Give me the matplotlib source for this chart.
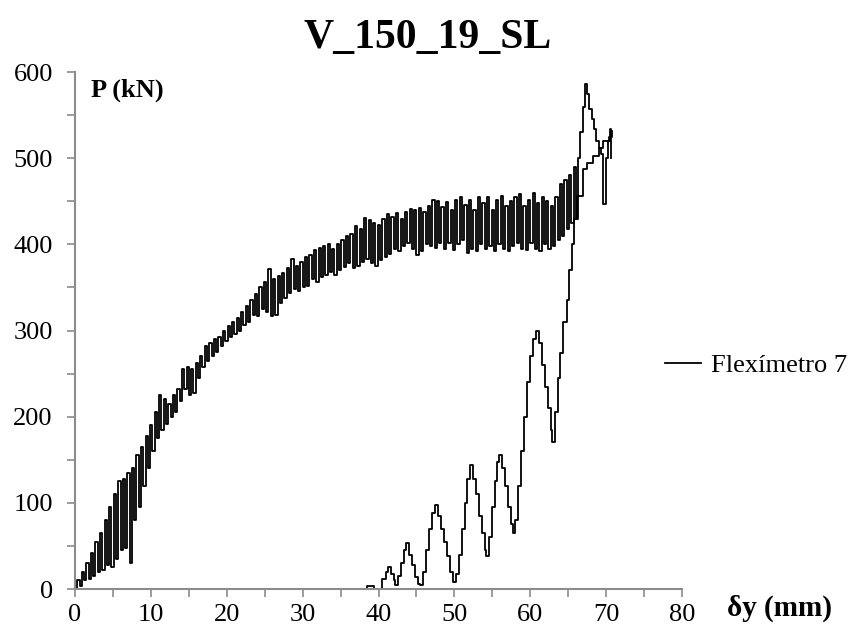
import numpy as np
import matplotlib
matplotlib.use('Agg')
import matplotlib.pyplot as plt
from matplotlib.ticker import MultipleLocator

plt.rcParams['font.family'] = ['Liberation Serif', 'DejaVu Serif']

# ramo superior (ciclos de carga), pares vale/pico
x_sup = [0.0, 0.3, 0.6, 0.9, 1.2, 1.5, 1.8, 2.1, 2.4, 2.7, 3.0, 3.3, 3.6, 3.9, 4.2, 4.5,
         4.8, 5.1, 5.4, 5.7, 6.0, 6.3, 6.6, 6.9, 7.2, 7.5, 7.8, 8.1, 8.4, 8.7, 9.0, 9.3,
         9.6, 9.9, 10.2, 10.5, 10.8, 11.1, 11.4, 11.7, 12.0, 12.3, 12.6, 12.9, 13.2, 13.5,
         13.8, 14.1, 14.4, 14.7, 15.0, 15.3, 15.6, 15.9, 16.2, 16.5, 16.8, 17.1, 17.4, 17.7,
         18.0, 18.3, 18.6, 18.9, 19.2, 19.5, 19.8, 20.1, 20.4, 20.7, 21.0, 21.3, 21.6, 21.9,
         22.2, 22.5, 22.8, 23.1, 23.4, 23.7, 24.0, 24.3, 24.6, 24.9, 25.2, 25.5, 25.8, 26.1,
         26.4, 26.7, 27.0, 27.3, 27.6, 27.9, 28.2, 28.5, 28.8, 29.1, 29.4, 29.7, 30.0, 30.3,
         30.6, 30.9, 31.2, 31.5, 31.8, 32.1, 32.4, 32.7, 33.0, 33.3, 33.6, 33.9, 34.2, 34.5,
         34.8, 35.1, 35.4, 35.7, 36.0, 36.3, 36.6, 36.9, 37.2, 37.5, 37.8, 38.1, 38.4, 38.7,
         39.0, 39.3, 39.6, 39.9, 40.2, 40.5, 40.8, 41.1, 41.4, 41.7, 42.0, 42.3, 42.6, 42.9,
         43.2, 43.5, 43.8, 44.1, 44.4, 44.7, 45.0, 45.3, 45.6, 45.9, 46.2, 46.5, 46.8, 47.1,
         47.4, 47.7, 48.0, 48.3, 48.6, 48.9, 49.2, 49.5, 49.8, 50.1, 50.4, 50.7, 51.0, 51.3,
         51.6, 51.9, 52.2, 52.5, 52.8, 53.1, 53.4, 53.7, 54.0, 54.3, 54.6, 54.9, 55.2, 55.5,
         55.8, 56.1, 56.4, 56.7, 57.0, 57.3, 57.6, 57.9, 58.2, 58.5, 58.8, 59.1, 59.4, 59.7,
         60.0, 60.3, 60.6, 60.9, 61.2, 61.5, 61.8, 62.1, 62.4, 62.7, 63.0, 63.3, 63.6, 63.9,
         64.2, 64.5, 64.8, 65.1, 65.4, 65.7, 66.0, 66.3, 66.6, 66.9, 67.2, 67.5, 67.8, 68.1,
         68.4, 68.7, 69.0, 69.3, 69.6, 70.0, 70.3, 70.5, 70.6]
p_sup = [0, 10, 4, 20, 10, 30, 12, 42, 15, 55, 20, 65, 22, 80, 28, 95,
         26, 110, 35, 125, 45, 128, 48, 135, 30, 140, 80, 155, 95, 165, 120, 178,
         140, 190, 160, 205, 175, 225, 185, 220, 192, 215, 200, 225, 205, 232,
         218, 255, 232, 258, 225, 255, 228, 262, 245, 270, 258, 282, 265, 285,
         270, 290, 275, 292, 282, 300, 288, 305, 292, 310, 296, 315, 300, 322,
         306, 328, 310, 335, 318, 342, 317, 350, 325, 356, 322, 371, 317, 360,
         318, 363, 332, 367, 338, 372, 344, 383, 348, 375, 346, 379, 350, 385,
         352, 388, 360, 393, 356, 396, 362, 398, 364, 400, 368, 395, 365, 400,
         370, 405, 374, 410, 378, 412, 372, 421, 375, 418, 380, 431, 383, 428,
         378, 425, 375, 423, 382, 430, 385, 435, 389, 432, 395, 436, 392, 430,
         398, 438, 402, 441, 395, 440, 388, 442, 392, 437, 400, 445, 398, 452,
         396, 450, 402, 443, 395, 449, 402, 440, 394, 452, 400, 455, 405, 446,
         390, 452, 395, 440, 392, 455, 400, 448, 395, 455, 398, 440, 392, 452,
         400, 456, 395, 445, 392, 450, 398, 455, 402, 458, 395, 445, 393, 452,
         402, 460, 395, 448, 392, 455, 400, 450, 395, 445, 398, 455, 405, 470,
         410, 475, 418, 480, 425, 490, 430, 500, 530, 560, 586, 575, 557, 545,
         534, 520, 512, 505, 447, 500, 520, 534, 500]

# ramo inferior
x_inf = [38.0, 38.5, 39.0, 39.4, 40.0, 40.5, 41.0, 41.3, 41.7, 42.0, 42.2, 42.6, 43.0,
         43.3, 43.6, 44.0, 44.4, 44.8, 45.2, 45.5, 45.9, 46.3, 46.7, 47.1, 47.4, 47.8,
         48.2, 48.6, 49.0, 49.4, 49.8, 50.2, 50.6, 51.0, 51.4, 51.7, 52.0, 52.4, 52.8,
         53.2, 53.6, 54.0, 54.1, 54.5, 54.9, 55.3, 55.6, 55.9, 56.3, 56.7, 57.1, 57.5,
         57.7, 58.0, 58.4, 58.8, 59.2, 59.6, 60.0, 60.4, 60.7, 61.1, 61.5, 61.9, 62.3,
         62.7, 62.9, 63.2, 63.6, 63.9, 64.3, 64.8, 65.1, 65.5, 65.8, 66.1, 66.9, 67.5,
         68.3, 69.0, 69.6, 70.4, 70.8]
p_inf = [0, 3, 3, 0, 0, 12, 20, 26, 18, 10, 5, 15, 30,
         45, 53, 40, 28, 14, 6, 5, 20, 45, 70, 88, 98, 85,
         70, 55, 38, 20, 8, 18, 40, 70, 100, 128, 144, 128, 110,
         85, 65, 45, 38, 60, 95, 125, 148, 156, 140, 120, 95, 75,
         65, 80, 120, 160, 200, 240, 270, 290, 299, 285, 260, 235, 210,
         185, 171, 205, 245, 274, 310, 336, 370, 400, 430, 456, 487, 495,
         503, 512, 520, 525, 532]

x_all = x_sup + [np.nan] + x_inf
p_all = p_sup + [np.nan] + p_inf

fig = plt.figure(figsize=(8.55, 6.32), dpi=100, facecolor='white')
ax = fig.add_axes([0.0877, 0.068, 0.710, 0.818])

ax.plot(x_all, p_all, color='black', linewidth=1.3, drawstyle='steps-post',
        label='Flexímetro 7')

ax.set_xlim(0, 80)
ax.set_ylim(0, 600)
ax.xaxis.set_major_locator(MultipleLocator(10))
ax.xaxis.set_minor_locator(MultipleLocator(5))
ax.yaxis.set_major_locator(MultipleLocator(100))
ax.yaxis.set_minor_locator(MultipleLocator(50))
ax.tick_params(which='both', direction='out', length=6, width=1.2, color='#8c8c8c',
               labelsize=19, labelcolor='black')
ax.tick_params(axis='x', pad=5)
ax.tick_params(axis='y', pad=10)

for lado in ['top', 'right']:
    ax.spines[lado].set_visible(False)
for lado in ['left', 'bottom']:
    ax.spines[lado].set_color('#8c8c8c')
    ax.spines[lado].set_linewidth(1.5)

fig.text(0.500, 0.94, 'V_150_19_SL', ha='center', va='center', fontsize=30,
         fontweight='bold')
ax.text(0.026, 0.965, 'P (kN)', transform=ax.transAxes, ha='left', va='center',
        fontsize=19, fontweight='bold')
fig.text(0.850, 0.037, 'δy (mm)', ha='left', va='center', fontsize=21,
         fontweight='bold')

ax.legend(loc='center left', bbox_to_anchor=(0.972, 0.433), frameon=False,
          fontsize=19, handlelength=1.35, handletextpad=0.38, borderpad=0,
          borderaxespad=0)

fig.savefig('out.png', dpi=100, facecolor='white')
